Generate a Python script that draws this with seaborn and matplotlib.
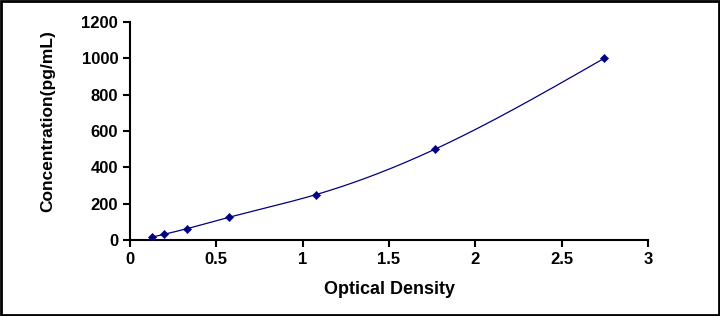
import numpy as np
import pandas as pd
import matplotlib
matplotlib.use("Agg")
import matplotlib.pyplot as plt
import seaborn as sns
from matplotlib.patches import Rectangle

# standard curve values
od = [0.127, 0.197, 0.33, 0.573, 1.077, 1.766, 2.745]
conc = [15.6, 31.25, 62.5, 125, 250, 500, 1000]

sns.set_style("white")
plt.rcParams["font.family"] = ["Liberation Sans", "DejaVu Sans"]
plt.rcParams["font.weight"] = "bold"
plt.rcParams["text.color"] = "black"
plt.rcParams["axes.labelcolor"] = "black"
plt.rcParams["xtick.color"] = "black"
plt.rcParams["ytick.color"] = "black"

df = pd.DataFrame({"od": od, "conc": conc})


# natural cubic spline, only used to draw the smooth line through the points
def spline_curve(x, y, n=300):
    x = np.asarray(x, float)
    y = np.asarray(y, float)
    k = len(x)
    h = np.diff(x)
    A = np.zeros((k, k))
    b = np.zeros(k)
    A[0, 0] = A[-1, -1] = 1
    for i in range(1, k - 1):
        A[i, i - 1] = h[i - 1]
        A[i, i] = 2 * (h[i - 1] + h[i])
        A[i, i + 1] = h[i]
        b[i] = 3 * ((y[i + 1] - y[i]) / h[i] - (y[i] - y[i - 1]) / h[i - 1])
    c = np.linalg.solve(A, b)
    xs = np.linspace(x[0], x[-1], n)
    ys = np.empty_like(xs)
    for j, xv in enumerate(xs):
        i = min(np.searchsorted(x, xv, side="right") - 1, k - 2)
        dx = xv - x[i]
        bi = (y[i + 1] - y[i]) / h[i] - h[i] * (2 * c[i] + c[i + 1]) / 3
        di = (c[i + 1] - c[i]) / (3 * h[i])
        ys[j] = y[i] + bi * dx + c[i] * dx ** 2 + di * dx ** 3
    return xs, ys


fig = plt.figure(figsize=(7.2, 3.16), dpi=100)
ax = fig.add_axes([0.1806, 0.2405, 0.7194, 0.6895])

xs, ys = spline_curve(od, conc)
ax.plot(xs, ys, color="#000080", linewidth=0.9, zorder=2)
sns.scatterplot(data=df, x="od", y="conc", ax=ax, marker="D", s=18,
                color="#000080", edgecolor="#000080", zorder=3)

ax.set_xlim(0, 3)
ax.set_ylim(0, 1200)
ax.set_xticks([0, 0.5, 1, 1.5, 2, 2.5, 3])
ax.set_xticklabels(["0", "0.5", "1", "1.5", "2", "2.5", "3"])
ax.set_yticks(range(0, 1201, 200))
ax.set_xlabel("Optical Density", fontsize=13, fontweight="bold")
ax.set_ylabel("Concentration(pg/mL)", fontsize=12.5, fontweight="bold")
ax.xaxis.set_label_coords(0.5, -0.19)
ax.yaxis.set_label_coords(-0.145, 0.546)
ax.tick_params(axis="both", direction="out", length=5, width=1.5,
               labelsize=12, colors="black", bottom=True, left=True)
for t in ax.get_xticklabels() + ax.get_yticklabels():
    t.set_fontweight("bold")
for s in ["top", "right"]:
    ax.spines[s].set_visible(False)
for s in ["left", "bottom"]:
    ax.spines[s].set_color("black")
    ax.spines[s].set_linewidth(1.5)

fig.patches.append(Rectangle((0.002, 0.003), 0.996, 0.994, transform=fig.transFigure,
                             fill=False, edgecolor="black", linewidth=2))

fig.savefig("out.png", dpi=100)
